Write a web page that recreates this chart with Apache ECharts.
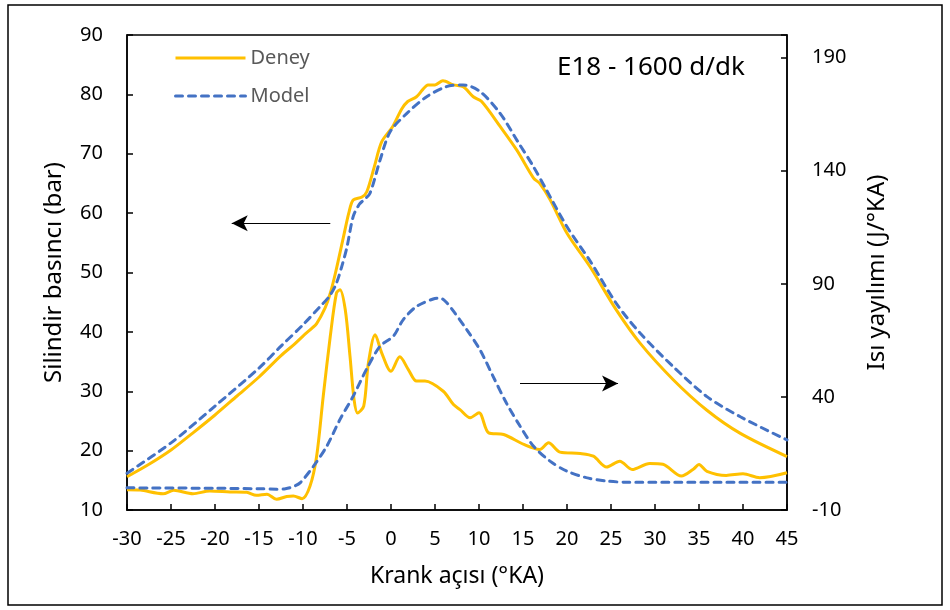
<!DOCTYPE html>
<html>
<head>
<meta charset="utf-8">
<script src="https://cdn.jsdelivr.net/npm/echarts@6/dist/echarts.min.js"></script>
<style>
  html, body { margin: 0; padding: 0; background: #fff; }
  #chart { width: 950px; height: 610px; }
</style>
</head>
<body>
<div id="chart"></div>
<script>
// krank açısı (°KA), silindir basıncı (bar) - deney
const deneyBasinc = [
  [-30, 15.6], [-27.5, 17.7], [-25, 20.1], [-22.5, 23], [-20, 26], [-17.5, 29.2], [-15, 32.4],
  [-12.5, 36], [-11, 37.9], [-10, 39.3], [-9, 40.6], [-8.45, 41.4], [-7.5, 44], [-6.9, 46.5],
  [-6.3, 50], [-5.4, 56], [-4.8, 60], [-4.3, 62.2], [-3.3, 62.7], [-2.75, 63.6], [-1.9, 67.8],
  [-1.06, 72], [0.2, 74.6], [1.2, 77.5], [1.9, 78.8], [2.9, 79.6], [3.6, 80.8], [4.2, 81.6],
  [5, 81.6], [5.9, 82.3], [7.1, 81.6], [8.2, 81.3], [9.35, 79.6], [10.3, 78.8], [12.4, 74.6],
  [14.3, 70.6], [16.2, 65.9], [16.9, 65], [18.1, 62.2], [20, 56.6], [22.6, 51], [25.6, 43.7],
  [28.3, 38.1], [32.1, 31.9], [35.9, 26.8], [39.7, 22.9], [45, 19]
]
// silindir basıncı (bar) - model
const modelBasinc = [
  [-30, 16.2], [-25, 21.3], [-20, 27.5], [-15, 33.9],
  [-12.5, 37.6], [-10, 41.2], [-8.1, 44.2], [-7, 46], [-6.2, 48.2], [-5.5, 51.5], [-5, 54.3],
  [-4.3, 59.4], [-3.6, 61.5], [-3.1, 62.2], [-2.4, 63.3], [-1.25, 68.9], [-0.1, 73.7], [1.8, 76.8],
  [4.05, 79.6], [6.3, 81.3], [8.2, 81.6], [10.1, 80.5], [12.4, 76.8], [14.3, 72.3], [16.2, 67.8],
  [17.7, 63.8], [20, 57.7], [22.6, 52], [25.6, 44.8], [28.3, 39.8], [32.1, 34.1], [35.9, 29.1],
  [39.7, 25.7], [45, 21.8]
]
// ısı yayılımı (J/°KA) - deney
const deneyIsi = [
  [-30, -1], [-28.5, -1.2], [-25.9, -2.8], [-24.7, -1.3], [-22.5, -2.8], [-20.6, -1.6], [-18.3, -2],
  [-16.4, -2.2], [-15.3, -3.5], [-14.1, -3], [-13, -5.3], [-11.85, -4], [-11.1, -3.8], [-10.1, -5],
  [-9.2, 0.6], [-8.45, 13.8], [-7.7, 40.3], [-6.9, 66.8], [-6.2, 85.9], [-5.8, 87.4], [-5.2, 78.6],
  [-4.66, 58], [-4.2, 38.9], [-3.8, 32.9], [-3.1, 35.9], [-2.57, 55], [-1.8, 67.5], [-1.06, 59.5],
  [0, 51.3], [1, 57.7], [1.97, 52.1], [2.9, 47], [3.86, 47], [5.94, 42.5], [7.1, 36.6], [7.84, 34.4],
  [9, 30.8], [10, 33], [11.1, 24.1], [12.8, 23.4], [15.1, 19], [16.9, 16.8], [17.9, 19.7],
  [19.2, 15.6], [21.5, 15], [23, 13.8], [24.5, 9], [26, 11.6], [27.4, 7.9], [29.4, 10.6],
  [30.9, 10.2], [33, 5], [34.35, 8], [35, 10.1], [35.9, 7.1], [38.1, 5.3], [40, 6], [41.9, 4.3],
  [45, 6.5]
]
// ısı yayılımı (J/°KA) - model
const modelIsi = [
  [-30, -0.2], [-20, -0.4], [-15, -0.6], [-13, -0.8], [-12, -0.6], [-11, 0.5], [-10.3, 2.1],
  [-8.8, 9.4], [-7.3, 18.2], [-5.8, 30], [-4.3, 40.3], [-2.8, 52.1], [-1.25, 62.4], [0.26, 66.8],
  [1.4, 74.2], [2.9, 80], [4.8, 83.3], [5.6, 83.7], [6.3, 81.8], [7.1, 77.9], [8.6, 69.8],
  [10.1, 60.9], [11.6, 49.1], [13.1, 37.4], [14.66, 27.1], [16.2, 18.2], [18.07, 11.6],
  [19.97, 7.2], [22.2, 4.3], [24.5, 2.8], [26.8, 2.3], [45, 2.3]
]
// ok işaretleri [başlangıç, uç]
const solOk = [[-6.9, 58.3], [-18.1, 58.3]]
const sagOk = [[14.66, 31.3], [25.8, 31.3]]

const sari = '#FFC000'
const mavi = '#4472C4'
const yazi = 'Noto Sans'

let chart = echarts.init(document.getElementById('chart'))

let deneyStil = { color: sari, width: 3 }
let modelStil = { color: mavi, width: 3, type: [7, 6], cap: 'round' }

chart.setOption({
  animation: false,
  textStyle: { fontFamily: yazi },
  title: {
    text: 'E18 - 1600 d/dk',
    left: 557,
    top: 55,
    padding: 0,
    textStyle: { fontFamily: yazi, fontSize: 26, fontWeight: 'normal', color: '#000' }
  },
  legend: {
    orient: 'vertical',
    left: 174,
    top: 48,
    padding: 0,
    itemWidth: 70,
    itemHeight: 14,
    itemGap: 18,
    itemStyle: { opacity: 0 },
    lineStyle: { width: 3 },
    textStyle: { fontFamily: yazi, fontSize: 20, color: '#595959' },
    data: ['Deney', 'Model']
  },
  graphic: [
    {
      type: 'rect',
      shape: { x: 8, y: 5, width: 934, height: 600 },
      style: { fill: 'none', stroke: '#000', lineWidth: 1.5 },
      silent: true
    }
  ],
  grid: {
    left: 127,
    right: 163,
    top: 35,
    bottom: 100,
    show: true,
    borderColor: '#000',
    borderWidth: 1.5
  },
  xAxis: {
    type: 'value',
    min: -30,
    max: 45,
    interval: 5,
    name: 'Krank açısı (°KA)',
    nameLocation: 'middle',
    nameGap: 55,
    nameTextStyle: { fontFamily: yazi, fontSize: 23, color: '#000' },
    axisLine: { onZero: false, lineStyle: { color: '#000', width: 1.5 } },
    axisTick: { inside: true, length: 6, lineStyle: { color: '#000', width: 1.5 } },
    axisLabel: { margin: 19, fontFamily: yazi, fontSize: 20, color: '#000' },
    splitLine: { show: false }
  },
  yAxis: [
    {
      type: 'value',
      min: 10,
      max: 90,
      interval: 10,
      name: 'Silindir basıncı (bar)',
      nameLocation: 'middle',
      nameGap: 61,
      nameTextStyle: { fontFamily: yazi, fontSize: 24, color: '#000' },
      axisLine: { show: true, onZero: false, lineStyle: { color: '#000', width: 1.5 } },
      axisTick: { show: true, inside: true, length: 6, lineStyle: { color: '#000', width: 1.5 } },
      axisLabel: { margin: 24, fontFamily: yazi, fontSize: 20, color: '#000' },
      splitLine: { show: false }
    },
    {
      type: 'value',
      min: -10,
      max: 200,
      interval: 50,
      position: 'right',
      name: 'Isı yayılımı (J/°KA)',
      nameLocation: 'middle',
      nameGap: 78,
      nameTextStyle: { fontFamily: yazi, fontSize: 24, color: '#000' },
      axisLine: { show: true, onZero: false, lineStyle: { color: '#000', width: 1.5 } },
      axisTick: { show: true, inside: true, length: 6, lineStyle: { color: '#000', width: 1.5 } },
      axisLabel: {
        margin: 25,
        fontFamily: yazi,
        fontSize: 20,
        color: '#000',
        formatter: v => (v === 200 ? '' : v)
      },
      splitLine: { show: false }
    }
  ],
  series: [
    {
      name: 'Deney',
      type: 'line',
      yAxisIndex: 0,
      data: deneyBasinc,
      symbol: 'none',
      smooth: 0.3,
      lineStyle: deneyStil,
      itemStyle: { color: sari },
      markLine: {
        silent: true,
        symbol: ['none', 'arrow'],
        symbolSize: [12, 16],
        label: { show: false },
        lineStyle: { color: '#000', width: 1.2, type: 'solid' },
        data: [
          [{ coord: solOk[0] }, { coord: solOk[1] }],
          [{ coord: sagOk[0] }, { coord: sagOk[1] }]
        ]
      },
      z: 3
    },
    {
      name: 'Model',
      type: 'line',
      yAxisIndex: 0,
      data: modelBasinc,
      symbol: 'none',
      smooth: 0.3,
      lineStyle: modelStil,
      itemStyle: { color: mavi },
      z: 4
    },
    {
      name: 'Deney',
      type: 'line',
      yAxisIndex: 1,
      data: deneyIsi,
      symbol: 'none',
      smooth: 0.3,
      lineStyle: deneyStil,
      itemStyle: { color: sari },
      z: 3
    },
    {
      name: 'Model',
      type: 'line',
      yAxisIndex: 1,
      data: modelIsi,
      symbol: 'none',
      smooth: 0.3,
      lineStyle: modelStil,
      itemStyle: { color: mavi },
      z: 4
    }
  ]
})
</script>
</body>
</html>
